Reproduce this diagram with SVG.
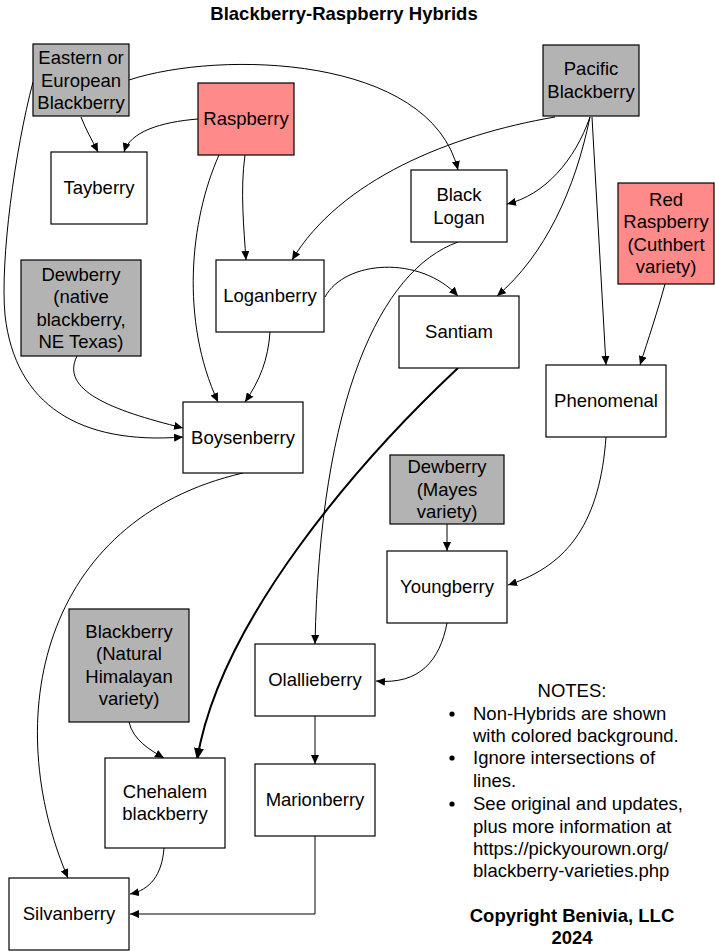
<svg xmlns="http://www.w3.org/2000/svg" width="715" height="951" viewBox="0 0 715 951">
<style>
text{font-family:"Liberation Sans",Arial,sans-serif;font-size:18.5px;fill:#000}
.t{text-anchor:middle}
.b{font-weight:bold}
.box{stroke:#000;stroke-width:1.2;fill:#fff}
.g{fill:#b3b3b3}
.p{fill:#ff8a8a}
.e{fill:none;stroke:#000;stroke-width:1}
.thick{stroke-width:2}
</style>
<defs>
<marker id="a" markerUnits="userSpaceOnUse" markerWidth="10" markerHeight="8" refX="9" refY="4" orient="auto">
<path d="M0,0 L9,4 L0,8 Z" fill="#000"/>
</marker>
<marker id="a2" markerUnits="userSpaceOnUse" markerWidth="14" markerHeight="10" refX="12" refY="5" orient="auto">
<path d="M0,0 L12,5 L0,10 Z" fill="#000"/>
</marker>
</defs>
<rect width="715" height="951" fill="#fff"/>
<text class="t b" x="344" y="20">Blackberry-Raspberry Hybrids</text>

<g id="connectors">
<path class="e" marker-end="url(#a)" d="M81,117 C86,130 92,140 98,152"/>
<path class="e" marker-end="url(#a)" d="M198,119 C160,122 130,132 124,152"/>
<path class="e" marker-end="url(#a)" d="M129,80 C220,50 430,55 458,170"/>
<path class="e" marker-end="url(#a)" d="M33,82 C15,150 0,260 5,315 C15,405 80,445 183,437"/>
<path class="e" marker-end="url(#a)" d="M245,155 C240,190 244,230 246,260"/>
<path class="e" marker-end="url(#a)" d="M219,155 C190,220 180,320 218,402"/>
<path class="e" marker-end="url(#a)" d="M270,332 C268,360 260,380 245,402"/>
<path class="e" marker-end="url(#a)" d="M77,356 C60,390 110,410 183,428"/>
<path class="e" marker-end="url(#a)" d="M555,117 C450,135 340,180 292,260"/>
<path class="e" marker-end="url(#a)" d="M590,117 C575,160 545,195 507,204"/>
<path class="e" marker-end="url(#a)" d="M590,117 C575,190 545,255 497,296"/>
<path class="e" marker-end="url(#a)" d="M592,117 L606,365"/>
<path class="e" marker-end="url(#a)" d="M665,284 C658,310 648,340 640,365"/>
<path class="e" marker-end="url(#a)" d="M325,297 C345,260 420,255 458,296"/>
<path class="e" marker-end="url(#a)" d="M458,242 C380,270 320,400 315,644"/>
<path class="e thick" marker-end="url(#a2)" d="M458,368 C360,460 220,620 197,760"/>
<path class="e" marker-end="url(#a)" d="M606,437 C600,520 570,565 508,585"/>
<path class="e" marker-end="url(#a)" d="M447,524 L447,551"/>
<path class="e" marker-end="url(#a)" d="M243,473 C40,520 0,720 68,878"/>
<path class="e" marker-end="url(#a)" d="M447,623 C440,660 420,685 376,681"/>
<path class="e" marker-end="url(#a)" d="M315,716 L315,764"/>
<path class="e" marker-end="url(#a)" d="M129,722 C133,740 150,750 164,758"/>
<path class="e" marker-end="url(#a)" d="M164,848 C162,875 150,890 130,894"/>
<path class="e" marker-end="url(#a)" d="M315,836 L315,914 L130,914"/>
</g>

<g id="eastern"><rect class="box g" x="33" y="44" width="96" height="72"/>
<text class="t" x="81" y="64">Eastern or</text><text class="t" x="81" y="86.5">European</text><text class="t" x="81" y="109">Blackberry</text></g>
<g id="raspberry"><rect class="box p" x="198" y="83" width="96" height="72"/>
<text class="t" x="246" y="125">Raspberry</text></g>
<g id="tayberry"><rect class="box" x="51" y="152" width="96" height="72"/>
<text class="t" x="99" y="194">Tayberry</text></g>
<g id="pacific"><rect class="box g" x="543" y="45" width="96" height="71"/>
<text class="t" x="591" y="75">Pacific</text><text class="t" x="591" y="98">Blackberry</text></g>
<g id="blacklogan"><rect class="box" x="411" y="170" width="96" height="72"/>
<text class="t" x="459" y="201">Black</text><text class="t" x="459" y="223.5">Logan</text></g>
<g id="redraspberry"><rect class="box p" x="618" y="183" width="96" height="101"/>
<text class="t" x="666" y="205.5">Red</text><text class="t" x="666" y="228">Raspberry</text><text class="t" x="666" y="250.5">(Cuthbert</text><text class="t" x="666" y="273">variety)</text></g>
<g id="dewberry1"><rect class="box g" x="21" y="260" width="120" height="96"/>
<text class="t" x="81" y="280.5">Dewberry</text><text class="t" x="81" y="303">(native</text><text class="t" x="81" y="325.5">blackberry,</text><text class="t" x="81" y="348">NE Texas)</text></g>
<g id="loganberry"><rect class="box" x="216" y="260" width="108" height="72"/>
<text class="t" x="270" y="302">Loganberry</text></g>
<g id="santiam"><rect class="box" x="399" y="296" width="120" height="72"/>
<text class="t" x="459" y="338">Santiam</text></g>
<g id="boysenberry"><rect class="box" x="183" y="402" width="120" height="71"/>
<text class="t" x="243" y="443.5">Boysenberry</text></g>
<g id="phenomenal"><rect class="box" x="546" y="365" width="120" height="72"/>
<text class="t" x="606" y="407">Phenomenal</text></g>
<g id="dewberry2"><rect class="box g" x="390" y="455" width="114" height="69"/>
<text class="t" x="447" y="473">Dewberry</text><text class="t" x="447" y="495.5">(Mayes</text><text class="t" x="447" y="518">variety)</text></g>
<g id="youngberry"><rect class="box" x="387" y="551" width="120" height="72"/>
<text class="t" x="447" y="593">Youngberry</text></g>
<g id="himalayan"><rect class="box g" x="69" y="609" width="120" height="113"/>
<text class="t" x="129" y="637.5">Blackberry</text><text class="t" x="129" y="660">(Natural</text><text class="t" x="129" y="682.5">Himalayan</text><text class="t" x="129" y="705">variety)</text></g>
<g id="olallieberry"><rect class="box" x="255" y="644" width="120" height="72"/>
<text class="t" x="315" y="686">Olallieberry</text></g>
<g id="chehalem"><rect class="box" x="105" y="758" width="120" height="90"/>
<text class="t" x="165" y="797.5">Chehalem</text><text class="t" x="165" y="820">blackberry</text></g>
<g id="marionberry"><rect class="box" x="255" y="764" width="120" height="72"/>
<text class="t" x="315" y="806">Marionberry</text></g>
<g id="silvanberry"><rect class="box" x="9" y="878" width="120" height="72"/>
<text class="t" x="69" y="920">Silvanberry</text></g>

<g id="notes">
<text class="t" x="572" y="697">NOTES:</text>
<circle cx="452" cy="714" r="2.6"/><circle cx="452" cy="758" r="2.6"/><circle cx="452" cy="804" r="2.6"/>
<text x="473" y="720">Non-Hybrids are shown</text>
<text x="473" y="742">with colored background.</text>
<text x="473" y="764">Ignore intersections of</text>
<text x="473" y="787">lines.</text>
<text x="473" y="810">See original and updates,</text>
<text x="473" y="833">plus more information at</text>
<text x="473" y="855">https://pickyourown.org/</text>
<text x="473" y="877">blackberry-varieties.php</text>
<text class="t b" x="572" y="922">Copyright Benivia, LLC</text>
<text class="t b" x="572" y="944">2024</text>
</g>
</svg>
